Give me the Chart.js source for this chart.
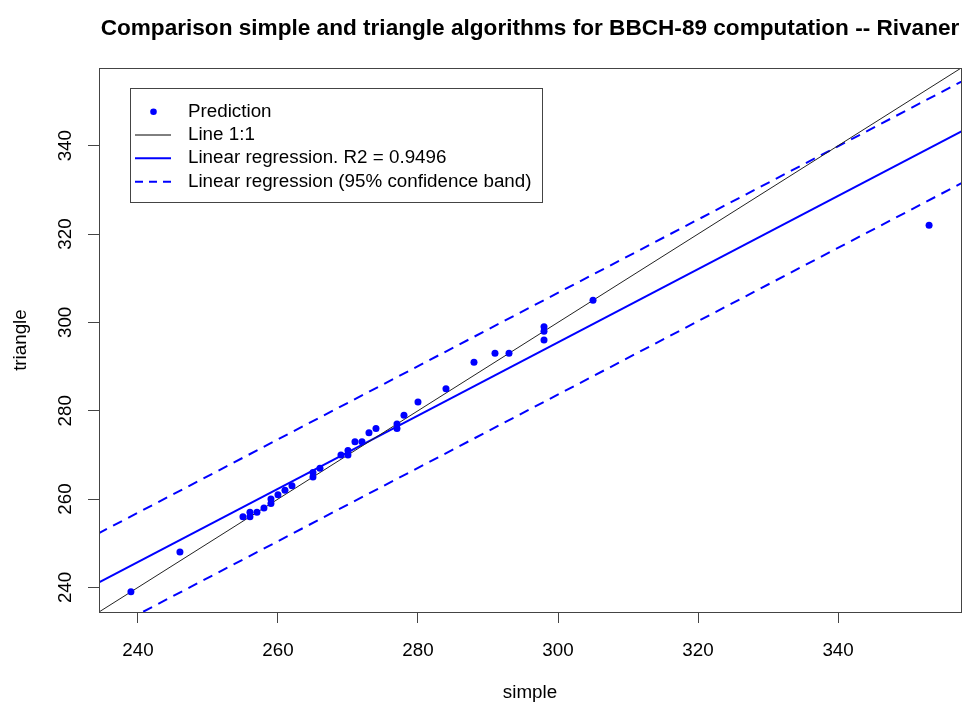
<!DOCTYPE html>
<html>
<head>
<meta charset="utf-8">
<script src="https://cdn.jsdelivr.net/npm/chart.js@4.4.1/dist/chart.umd.min.js"></script>
<style>
  body { margin: 0; background: #fff; }
  #wrap { width: 967px; height: 704px; }
</style>
</head>
<body>
<div id="wrap"><canvas id="cv" width="967" height="704"></canvas></div>
<script>
// values
const simpleVals = [239, 246, 255, 256, 256, 257, 258, 259, 259, 260, 261, 262, 265, 265, 266,
    269, 270, 270, 271, 272, 273, 274, 277, 277, 278, 280, 284, 288, 291, 293, 298, 298, 298, 305, 353];
const triangleVals = [239, 248, 256, 257, 256, 257, 258, 259, 260, 261, 262, 263, 265, 266, 267,
    270, 271, 270, 273, 273, 275, 276, 277, 276, 279, 282, 285, 291, 293, 293, 299, 298, 296, 305, 322];

// straight lines, given by their value at the two ends
const lineEnds = [230, 360];
const oneToOne = [230, 360];
const regFit = [237.45, 345.19];
const bandUpper = [248.62, 356.47];
const bandLower = [225.57, 333.47];

const axisMin = 234.44;
const axisMax = 357.56;
const tickValues = [240, 260, 280, 300, 320, 340];

const legendLabels = ['Prediction', 'Line 1:1', 'Linear regression. R2 = 0.9496',
    'Linear regression (95% confidence band)'];

const BLUE = '#0000ff';
const FONT = "'Liberation Sans', Arial, Helvetica, sans-serif";

const toXY = (xs, ys) => xs.map((x, i) => ({ x: x, y: ys[i] }));

const setTicks = (scale) => {
    scale.ticks = tickValues.map(v => ({ value: v }));
};

// box around the plot + legend, as R draws them
const framePlugin = {
    id: 'frame',
    afterDraw: (chart) => {
        const ctx = chart.ctx;
        const a = chart.chartArea;
        ctx.save();
        ctx.strokeStyle = '#444';
        ctx.lineWidth = 1;
        ctx.strokeRect(Math.round(a.left) + 0.5, Math.round(a.top) + 0.5,
            Math.round(a.right - a.left), Math.round(a.bottom - a.top));

        // legend
        const bx = 130.5, by = 88.5, bw = 412, bh = 114;
        ctx.fillStyle = '#fff';
        ctx.fillRect(bx, by, bw, bh);
        ctx.strokeRect(bx, by, bw, bh);
        const rows = [111.7, 135, 158.3, 181.7];
        ctx.font = '18.8px ' + FONT;
        ctx.fillStyle = '#000';
        ctx.textBaseline = 'middle';
        ctx.textAlign = 'left';
        legendLabels.forEach((t, i) => ctx.fillText(t, 188, rows[i]));

        ctx.fillStyle = BLUE;
        ctx.beginPath();
        ctx.arc(153.5, rows[0], 3.3, 0, Math.PI * 2);
        ctx.fill();

        ctx.strokeStyle = '#000';
        ctx.lineWidth = 1;
        ctx.beginPath();
        ctx.moveTo(135, rows[1]); ctx.lineTo(171, rows[1]);
        ctx.stroke();

        ctx.strokeStyle = BLUE;
        ctx.lineWidth = 2;
        ctx.beginPath();
        ctx.moveTo(135, rows[2]); ctx.lineTo(171, rows[2]);
        ctx.stroke();

        ctx.setLineDash([8, 6]);
        ctx.beginPath();
        ctx.moveTo(135, rows[3]); ctx.lineTo(171, rows[3]);
        ctx.stroke();
        ctx.restore();
    }
};

new Chart(document.getElementById('cv'), {
    type: 'scatter',
    data: {
        datasets: [
            {
                label: legendLabels[0],
                data: toXY(simpleVals, triangleVals),
                backgroundColor: BLUE,
                borderColor: BLUE,
                pointRadius: 3.5,
                pointBorderWidth: 0,
                showLine: false
            },
            {
                label: legendLabels[1],
                data: toXY(lineEnds, oneToOne),
                borderColor: '#222',
                borderWidth: 1,
                pointRadius: 0,
                showLine: true
            },
            {
                label: legendLabels[2],
                data: toXY(lineEnds, regFit),
                borderColor: BLUE,
                borderWidth: 2,
                pointRadius: 0,
                showLine: true
            },
            {
                label: legendLabels[3],
                data: toXY(lineEnds, bandUpper),
                borderColor: BLUE,
                borderWidth: 2,
                borderDash: [10, 7],
                pointRadius: 0,
                showLine: true
            },
            {
                label: legendLabels[3],
                data: toXY(lineEnds, bandLower),
                borderColor: BLUE,
                borderWidth: 2,
                borderDash: [10, 7],
                pointRadius: 0,
                showLine: true
            }
        ]
    },
    options: {
        responsive: false,
        animation: false,
        layout: { padding: { top: 0, right: 6, bottom: 0, left: 0 } },
        plugins: {
            legend: { display: false },
            tooltip: { enabled: false },
            title: {
                display: true,
                fullSize: false,
                text: 'Comparison simple and triangle algorithms for BBCH-89 computation -- Rivaner',
                color: '#000',
                font: { family: FONT, size: 22.6, weight: 'bold' },
                padding: { top: 15, bottom: 26 }
            }
        },
        scales: {
            x: {
                type: 'linear',
                min: axisMin,
                max: axisMax,
                bounds: 'data',
                afterBuildTicks: setTicks,
                afterFit: (s) => { s.height = 92; },
                border: { display: false },
                grid: { drawOnChartArea: false, drawTicks: true, tickLength: 11, color: '#444' },
                ticks: {
                    color: '#000',
                    font: { family: FONT, size: 18.8 },
                    padding: 17,
                    maxRotation: 0
                },
                title: {
                    display: true,
                    text: 'simple',
                    color: '#000',
                    font: { family: FONT, size: 18.8 },
                    padding: { top: 0, bottom: 0 }
                }
            },
            y: {
                type: 'linear',
                min: axisMin,
                max: axisMax,
                bounds: 'data',
                afterBuildTicks: setTicks,
                afterFit: (s) => { s.width = 99; },
                border: { display: false },
                grid: { drawOnChartArea: false, drawTicks: true, tickLength: 11, color: '#444' },
                ticks: {
                    color: '#000',
                    font: { family: FONT, size: 18.8 },
                    padding: 7,
                    minRotation: 90,
                    maxRotation: 90,
                    crossAlign: 'center'
                },
                title: {
                    display: true,
                    text: 'triangle',
                    color: '#000',
                    font: { family: FONT, size: 18.8 },
                    padding: { top: 10, bottom: 0 }
                }
            }
        }
    },
    plugins: [framePlugin]
});
</script>
</body>
</html>
